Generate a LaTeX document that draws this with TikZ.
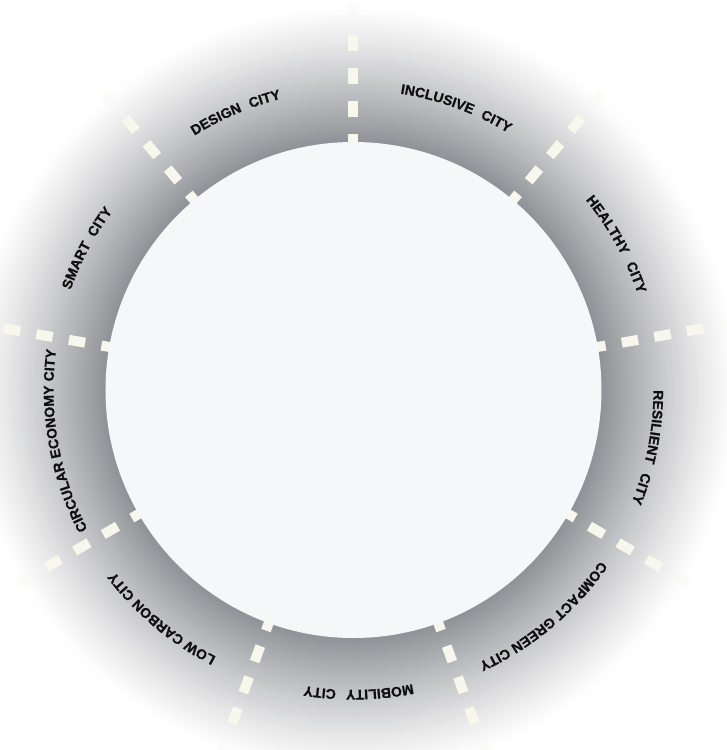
\documentclass[tikz,border=0pt]{standalone}
\usepackage{fontspec}
\setmainfont{Liberation Sans}
\newfontfamily\lblfam[FakeBold=0.9]{Liberation Sans}
\usetikzlibrary{decorations.text,calc}
\definecolor{ringgray}{RGB}{144,145,150}
\definecolor{discfill}{RGB}{245,247,248}
\definecolor{dashcream}{RGB}{248,247,237}
\definecolor{labelink}{RGB}{15,15,15}
\newcommand{\lblfont}{\lblfam\bfseries\fontsize{14pt}{16pt}\selectfont}
\tikzset{
  divider/.style={draw=dashcream, line width=10pt, dash pattern=on 16.5pt off 16.5pt},
  ringlabel/.style={decorate, decoration={text along path, text align=center, text color=labelink, text={#1}}},
}
\begin{document}
\begin{tikzpicture}[x=1pt,y=1pt]
\useasboundingbox (-353.5,-360) rectangle (372.5,390);
\fill[white] (-353.5,-360) rectangle (372.5,390);
\coordinate (O) at (0,0);
% shaded ring
\foreach \i in {0,...,91} {
  \pgfmathsetmacro{\rr}{385-1.5*\i}
  \pgfmathsetmacro{\tt}{max(0,min(1,(\rr-248)/137))}
  \pgfmathsetmacro{\pp}{100*(1-\tt)^1.2}
  \fill[ringgray!\pp!white] (O) circle[radius=\rr];
}
% dashed dividers
\foreach \a in {90,50,10,-30,-70,-110,-150,170,130} {
  \draw[divider] ($(O)+(\a:239.5)$) -- ($(O)+(\a:356)$);
  \draw[divider, opacity=0.35] ($(O)+(\a:371.5)$) -- ($(O)+(\a:388)$);
}
% central disc
\fill[discfill] (O) circle[radius=248];
% labels
\foreach \c/\t in {
  70/{|\lblfont|INCLUSIVE {\kern5pt}CITY},
  29/{|\lblfont|HEALTHY {\kern6pt}CITY},
  -11/{|\lblfont|RESILIENT {\kern6pt}CITY},
  -50/{|\lblfont|COMPACT GREEN CITY},
  -89/{|\lblfont|MOBILITY {\kern6pt}CITY},
  -130/{|\lblfont|LOW CARBON CITY},
  -170/{|\lblfont|CIRCULAR ECONOMY CITY},
  152/{|\lblfont|SMART {\kern4pt}CITY},
  113/{|\lblfont|DESIGN {\kern5pt}CITY}} {
  \path[ringlabel/.expand once=\t] (\c+40:300) arc[start angle=\c+40, end angle=\c-40, radius=300];
}
\end{tikzpicture}
\end{document}
